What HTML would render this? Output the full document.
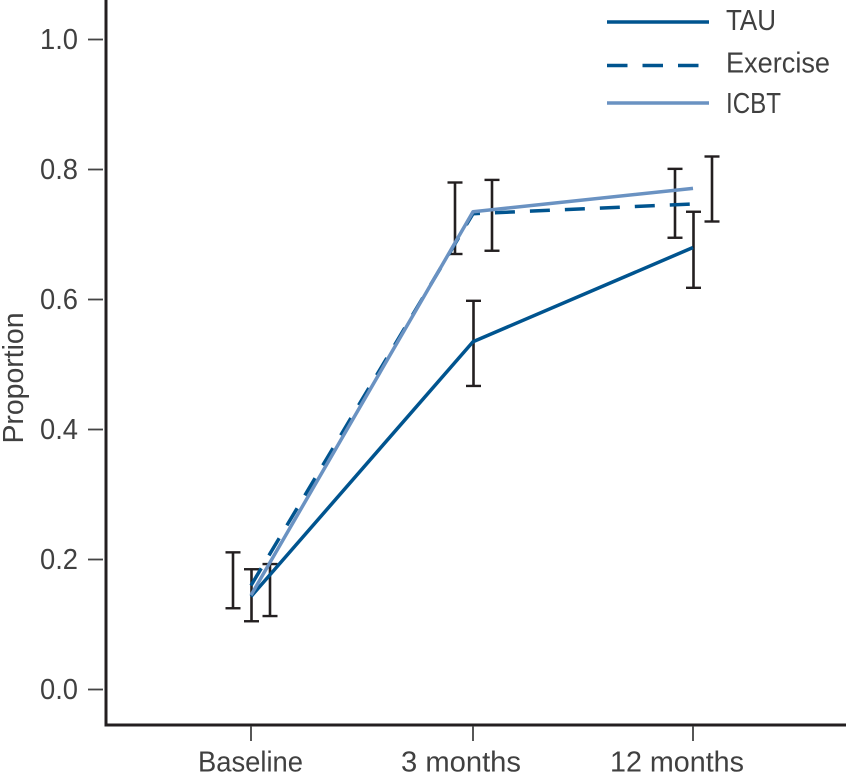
<!DOCTYPE html>
<html>
<head>
<meta charset="utf-8">
<style>
html,body{margin:0;padding:0;background:#fff;width:846px;height:773px;overflow:hidden}
svg{display:block}
text{font-family:"Liberation Sans",sans-serif;fill:#404040;font-size:29px}
</style>
</head>
<body>
<svg id="chart" width="846" height="773" viewBox="0 0 846 773" xmlns="http://www.w3.org/2000/svg"></svg>
<script>
const categories = ['Baseline', '3 months', '12 months'];
const yTickValues = [0.0, 0.2, 0.4, 0.6, 0.8, 1.0];
const yTickLabels = ['0.0', '0.2', '0.4', '0.6', '0.8', '1.0'];
const seriesNames = ['TAU', 'Exercise', 'ICBT'];
const tauValues = [0.143, 0.535, 0.68];
const exerciseValues = [0.16, 0.732, 0.747];
const icbtValues = [0.145, 0.735, 0.771];
const tauLow = [0.105, 0.467, 0.618];
const tauHigh = [0.185, 0.598, 0.735];
const exerciseLow = [0.125, 0.67, 0.695];
const exerciseHigh = [0.211, 0.78, 0.801];
const icbtLow = [0.113, 0.675, 0.72];
const icbtHigh = [0.193, 0.784, 0.82];

const NS = 'http://www.w3.org/2000/svg';
const svg = document.getElementById('chart');
const xScale = i => [251, 473, 693][i];
const yScale = v => 689.5 - v * 650;

function mk(tag, attrs, parent) {
  const el = document.createElementNS(NS, tag);
  for (const k in attrs) el.setAttribute(k, attrs[k]);
  (parent || svg).appendChild(el);
  return el;
}

// axes
const yAxis = mk('line', {x1: 106, x2: 106, y1: 0, y2: 726.5, stroke: '#231f20', 'stroke-width': 3});


const xAxis = mk('line', {x1: 105, x2: 846, y1: 725, y2: 725, stroke: '#231f20', 'stroke-width': 3});



yTickValues.forEach((v, i) => {
  const t = mk('line', {x1: 88, x2: 103, y1: yScale(v), y2: yScale(v), stroke: '#444', 'stroke-width': 1.8});
  
  
  const l = mk('text', {x: 78, y: yScale(v) + 9.5, 'text-anchor': 'end', textLength: 38, lengthAdjust: 'spacingAndGlyphs'});
  l.textContent = yTickLabels[i];
  
  
});

const xLabelWidths = [105, 120, 134];
const xLabelShift = [-0.5, -12, -16];
categories.forEach((c, i) => {
  const t = mk('line', {x1: xScale(i), x2: xScale(i), y1: 726, y2: 741, stroke: '#444', 'stroke-width': 1.8});
  
  
  const l = mk('text', {x: xScale(i) + xLabelShift[i] - xLabelWidths[i] / 2, y: 771.5, textLength: xLabelWidths[i], lengthAdjust: 'spacingAndGlyphs'});
  l.textContent = c;
  
  
});

const yTitle = mk('text', {transform: 'translate(23,378) rotate(-90)', 'text-anchor': 'middle', textLength: 131, lengthAdjust: 'spacingAndGlyphs'});
yTitle.textContent = 'Proportion';



// error bars
function errorBars(low, high, offset, name) {
  low.forEach((lo, i) => {
    const x = xScale(i) + offset;
    const g = mk('g', {stroke: '#231f20', 'stroke-width': 2.4, fill: 'none'});
    
    
    mk('line', {x1: x, x2: x, y1: yScale(high[i]), y2: yScale(lo), 'stroke-width': 2.6}, g);
    mk('line', {x1: x - 7.5, x2: x + 7.5, y1: yScale(high[i]), y2: yScale(high[i])}, g);
    mk('line', {x1: x - 7.5, x2: x + 7.5, y1: yScale(lo), y2: yScale(lo)}, g);
  });
}
errorBars(tauLow, tauHigh, 0.5, 'tau-error-bar');
errorBars(exerciseLow, exerciseHigh, -18, 'exercise-error-bar');
errorBars(icbtLow, icbtHigh, 19, 'icbt-error-bar');

// series
function series(values, color, dash, name) {
  const pts = values.map((v, i) => xScale(i) + ',' + yScale(v)).join(' ');
  const p = mk('polyline', {points: pts, fill: 'none', stroke: color, 'stroke-width': 3.5, 'stroke-linejoin': 'round', 'stroke-linecap': 'butt'});
  if (dash) p.setAttribute('stroke-dasharray', dash);
  
  
}
series(tauValues, '#00548f', null, 'tau-line');
series(exerciseValues, '#00548f', '20 15', 'exercise-line');
series(icbtValues, '#6a92c2', null, 'icbt-line');

// legend
const legendColors = ['#00548f', '#00548f', '#6a92c2'];
const legendDash = [null, '20.5 15', null];
const legendLineY = [22, 65.5, 103];
const legendTextY = [30, 72.5, 113];
const legendTextW = [50, 104, 55];
seriesNames.forEach((n, i) => {
  const g = mk('g', {});
  
  
  const ln = mk('line', {x1: 607, x2: i === 1 ? 699 : 709, y1: legendLineY[i], y2: legendLineY[i], stroke: legendColors[i], 'stroke-width': 3.5}, g);
  if (legendDash[i]) ln.setAttribute('stroke-dasharray', legendDash[i]);
  const t = mk('text', {x: 726, y: legendTextY[i], textLength: legendTextW[i], lengthAdjust: 'spacingAndGlyphs'}, g);
  t.textContent = n;
});
</script>
</body>
</html>
